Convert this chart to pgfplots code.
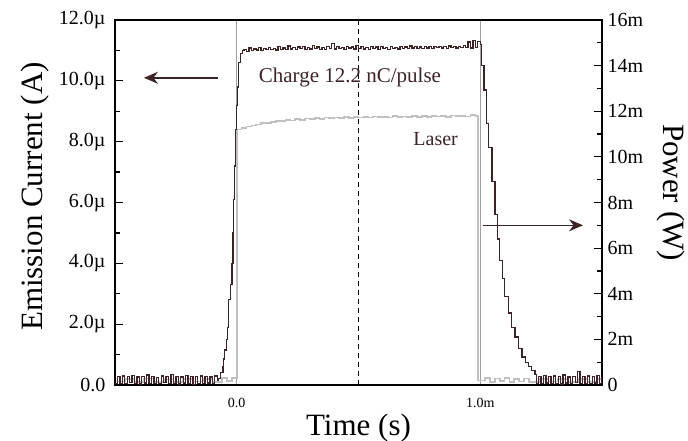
\documentclass[border=0pt]{standalone}
\usepackage{pgfplots}
\pgfplotsset{compat=1.18}
\usepackage{fontspec}
\setmainfont{Liberation Serif}
\usetikzlibrary{arrows.meta}
\definecolor{cur}{RGB}{60,35,37}
\definecolor{las}{RGB}{192,192,192}
\definecolor{vmark}{RGB}{160,160,160}

% emission current (uA) vs time (ms)
\pgfplotstableread{
t I
-0.50 0.05
-0.49 0.28
-0.48 0.06
-0.47 0.30
-0.46 0.04
-0.45 0.27
-0.44 0.08
-0.43 0.31
-0.42 0.05
-0.41 0.26
-0.40 0.03
-0.39 0.29
-0.38 0.07
-0.37 0.33
-0.36 0.05
-0.35 0.28
-0.34 0.06
-0.33 0.25
-0.32 0.04
-0.31 0.30
-0.30 0.08
-0.29 0.27
-0.28 0.05
-0.27 0.34
-0.26 0.06
-0.25 0.29
-0.24 0.03
-0.23 0.26
-0.22 0.07
-0.21 0.31
-0.20 0.05
-0.19 0.28
-0.18 0.02
-0.17 0.27
-0.16 0.06
-0.15 0.30
-0.14 0.04
-0.13 0.29
-0.12 0.07
-0.11 0.26
-0.10 0.05
-0.09 0.30
-0.080 0.15
-0.074 0.22
-0.066 0.40
-0.057 0.60
-0.053 0.85
-0.049 1.15
-0.043 1.50
-0.037 1.90
-0.033 2.80
-0.027 3.30
-0.020 4.00
-0.016 5.00
-0.012 6.10
-0.008 7.20
-0.004 8.40
0.000 9.20
0.004 9.80
0.008 10.60
0.015 10.90
0.025 11.00
0.03 11.02
0.04 10.96
0.05 11.08
0.06 10.99
0.07 11.05
0.08 11.01
0.09 11.09
0.10 11.00
0.11 11.06
0.12 11.02
0.13 11.10
0.14 11.03
0.15 11.07
0.16 11.01
0.17 11.12
0.18 11.04
0.19 11.08
0.20 11.02
0.21 11.15
0.22 11.05
0.23 11.09
0.24 11.03
0.25 11.11
0.26 11.06
0.27 11.13
0.28 11.04
0.29 11.10
0.30 11.05
0.31 11.16
0.32 11.07
0.33 11.11
0.34 11.04
0.35 11.09
0.36 11.02
0.37 11.13
0.38 11.06
0.39 11.22
0.40 11.05
0.41 11.12
0.42 11.07
0.43 11.10
0.44 11.04
0.45 11.14
0.46 11.08
0.47 11.11
0.48 11.05
0.49 11.16
0.50 11.06
0.51 11.12
0.52 11.05
0.53 11.10
0.54 11.03
0.55 11.13
0.56 11.07
0.57 11.11
0.58 11.04
0.59 11.12
0.60 11.06
0.61 11.09
0.62 11.03
0.63 11.14
0.64 11.06
0.65 11.10
0.66 11.05
0.67 11.13
0.68 11.07
0.69 11.11
0.70 11.06
0.71 11.15
0.72 11.08
0.73 11.12
0.74 11.07
0.75 11.11
0.76 11.06
0.77 11.14
0.78 11.08
0.79 11.12
0.80 11.07
0.81 11.13
0.82 11.09
0.83 11.14
0.84 11.08
0.85 11.12
0.86 11.07
0.87 11.15
0.88 11.09
0.89 11.13
0.90 11.08
0.91 11.14
0.92 11.10
0.93 11.16
0.94 11.09
0.95 11.28
0.96 11.08
0.97 11.33
0.98 11.10
0.99 11.30
1.000 11.20
1.005 10.50
1.015 9.70
1.025 8.60
1.035 7.80
1.048 6.70
1.060 5.60
1.070 4.80
1.080 4.10
1.090 3.50
1.100 2.90
1.115 2.37
1.128 1.90
1.143 1.58
1.158 1.20
1.172 0.92
1.185 0.75
1.197 0.60
1.210 0.48
1.225 0.35
1.23 0.06
1.24 0.29
1.25 0.05
1.26 0.31
1.27 0.07
1.28 0.27
1.29 0.04
1.30 0.30
1.31 0.06
1.32 0.28
1.33 0.03
1.34 0.33
1.35 0.07
1.36 0.26
1.37 0.05
1.38 0.29
1.39 0.08
1.40 0.45
1.41 0.04
1.42 0.27
1.43 0.06
1.44 0.30
1.45 0.05
1.46 0.28
1.47 0.07
1.48 0.31
1.49 0.04
1.50 0.27
}\current

% laser power (mW) vs time (ms)
\pgfplotstableread{
t P
-0.50 0.15
-0.46 0.25
-0.42 0.12
-0.38 0.28
-0.34 0.14
-0.30 0.24
-0.26 0.13
-0.22 0.27
-0.18 0.15
-0.14 0.26
-0.10 0.12
-0.06 0.30
-0.04 0.18
-0.02 0.32
0.00 11.20
0.02 11.28
0.04 11.33
0.06 11.38
0.08 11.42
0.10 11.47
0.12 11.50
0.14 11.53
0.16 11.56
0.18 11.58
0.20 11.62
0.22 11.60
0.24 11.65
0.26 11.63
0.28 11.68
0.30 11.66
0.32 11.70
0.34 11.67
0.36 11.72
0.38 11.69
0.40 11.73
0.42 11.70
0.44 11.75
0.46 11.71
0.48 11.74
0.50 11.72
0.52 11.76
0.54 11.73
0.56 11.77
0.58 11.74
0.60 11.76
0.62 11.73
0.64 11.78
0.66 11.75
0.68 11.77
0.70 11.74
0.72 11.79
0.74 11.76
0.76 11.78
0.78 11.75
0.80 11.80
0.82 11.77
0.84 11.79
0.86 11.76
0.88 11.81
0.90 11.78
0.92 11.80
0.94 11.77
0.96 11.84
0.98 11.79
0.99 0.20
1.02 0.30
1.04 0.14
1.06 0.28
1.08 0.16
1.10 0.31
1.12 0.13
1.14 0.27
1.16 0.15
1.18 0.29
1.20 0.14
1.24 0.26
1.28 0.15
1.32 0.27
1.36 0.13
1.40 0.25
1.44 0.14
1.48 0.26
1.50 0.15
}\laser

\begin{document}
\begin{tikzpicture}
\pgfplotsset{
  base/.style={width=487pt,height=365pt,scale only axis,at={(0,0)},anchor=south west,
    xmin=-0.5,xmax=1.5,tick align=inside,
    axis line style={line width=1.4pt},
    every tick/.style={black,line width=1.2pt},
    major tick length=8pt,minor tick length=5.5pt,
    yticklabel style={font=\fontsize{20}{24}\selectfont}},
}
% right axis: laser power
\begin{axis}[base,ymin=0,ymax=16,axis y line*=right,axis x line=none,
  ytick={0,2,...,16},yticklabels={0,2m,4m,6m,8m,10m,12m,14m,16m},
  minor ytick={1,3,...,15},
  yticklabel style={xshift=2pt},
  ylabel={Power (W)},
  ylabel style={font=\fontsize{31}{36}\selectfont,at={([xshift=69pt,yshift=10pt]axis description cs:1,0.5)},anchor=center,rotate=180}]
\draw[vmark,line width=0.9pt] (axis cs:0,0) -- (axis cs:0,16);
\draw[vmark,line width=0.9pt] (axis cs:1,0) -- (axis cs:1,16);
\draw[black,line width=1pt,dash pattern=on 5pt off 4pt] (axis cs:0.5,0) -- (axis cs:0.5,16);
\addplot[const plot,las,line width=1.7pt] table[x=t,y=P] {\laser};
\draw[cur,line width=1.5pt,-{Stealth[length=14pt,width=12pt]}] (axis cs:1.012,7.0) -- (axis cs:1.422,7.0);
\end{axis}
% left axis: emission current
\begin{axis}[base,ymin=0,ymax=12,ytick pos=left,
  ytick={0,2,...,12},yticklabels={0.0,2.0µ,4.0µ,6.0µ,8.0µ,10.0µ,12.0µ},
  minor ytick={1,3,...,11},
  yticklabel style={xshift=-6pt},
  xtick={0,1},xticklabels={0.0,1.0m},xtick style={draw=none},
  xticklabel style={font=\fontsize{14}{16}\selectfont,yshift=-10pt},
  xlabel={Time (s)},
  xlabel style={font=\fontsize{31}{36}\selectfont,at={([yshift=-43pt]axis description cs:0.5,0)},anchor=center},
  ylabel={Emission Current (A)},
  ylabel style={font=\fontsize{31}{36}\selectfont,at={([xshift=-80pt,yshift=6pt]axis description cs:0,0.5)},anchor=center}]
\addplot[const plot,cur,line width=1.3pt] table[x=t,y=I] {\current};
\draw[cur,line width=1.5pt,-{Stealth[length=14pt,width=12pt]}] (axis cs:-0.078,10.1) -- (axis cs:-0.381,10.1);
\node[anchor=base west,font=\fontsize{21}{24}\selectfont,text=cur,inner sep=0pt] at (axis cs:0.09,9.93) {Charge 12.2 nC/pulse};
\node[anchor=base west,font=\fontsize{20}{24}\selectfont,text=cur,inner sep=0pt] at (axis cs:0.725,7.86) {Laser};
\end{axis}
\pgfresetboundingbox
\path (-115pt,-56pt) rectangle (573pt,385pt);
\end{tikzpicture}
\end{document}
